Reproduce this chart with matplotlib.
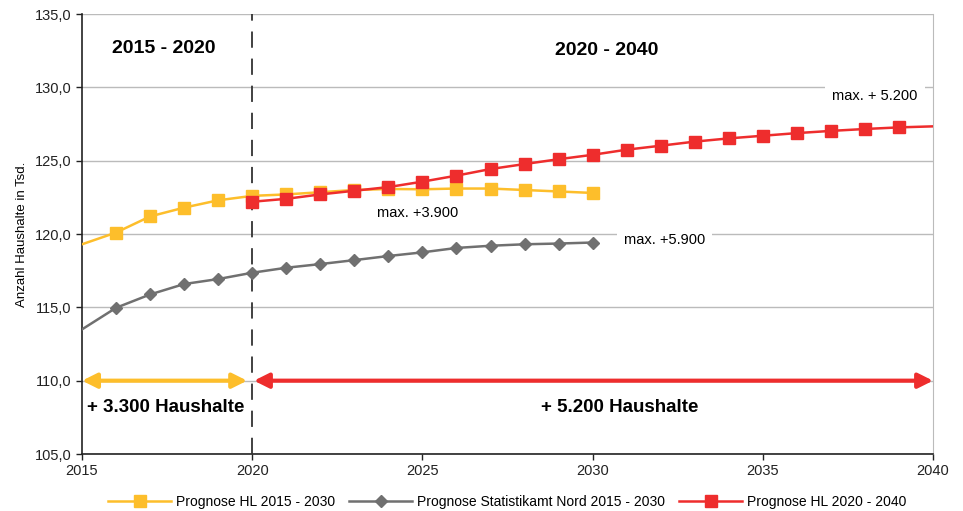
import matplotlib
matplotlib.use("Agg")
import matplotlib.pyplot as plt
import matplotlib.ticker as mticker

plt.rcParams["font.family"] = ["Liberation Sans", "DejaVu Sans"]

# Daten (Tsd. Haushalte)
years_a = list(range(2015, 2031))
hl_2015 = [119.3, 120.1, 121.2, 121.8, 122.3, 122.6, 122.7, 122.85, 123.0,
           123.07, 123.05, 123.1, 123.1, 123.0, 122.9, 122.8]
stat_nord = [113.5, 114.97, 115.88, 116.59, 116.93, 117.36, 117.7, 117.95, 118.22,
             118.5, 118.75, 119.05, 119.2, 119.3, 119.35, 119.42]
years_b = list(range(2020, 2041))
hl_2020 = [122.2, 122.4, 122.7, 122.95, 123.2, 123.57, 123.98, 124.43, 124.77, 125.1,
           125.4, 125.75, 126.02, 126.3, 126.52, 126.7, 126.88, 127.03, 127.16, 127.27, 127.34]

labels = ["Prognose HL 2015 - 2030", "Prognose Statistikamt Nord 2015 - 2030",
          "Prognose HL 2020 - 2040"]

YELLOW = "#FDBE2B"
GRAY = "#707070"
RED = "#EE2D2D"

fig = plt.figure(figsize=(9.63, 5.11), dpi=100)
ax = fig.add_axes([0.0852, 0.1115, 0.8837, 0.8611])

ax.plot(years_a, hl_2015, color=YELLOW, lw=1.8, marker="s", ms=8.5,
        markevery=list(range(1, len(years_a))), label=labels[0], zorder=4)
ax.plot(years_a, stat_nord, color=GRAY, lw=1.8, marker="D", ms=6.5,
        markevery=list(range(1, len(years_a))), label=labels[1], zorder=4)
ax.plot(years_b, hl_2020, color=RED, lw=1.8, marker="s", ms=8.5,
        markevery=list(range(0, len(years_b) - 1)), label=labels[2], zorder=5)

ax.set_xlim(2015, 2040)
ax.set_ylim(105, 135)
ax.set_xticks(range(2015, 2041, 5))
ax.set_yticks(range(105, 136, 5))
ax.yaxis.set_major_formatter(mticker.FuncFormatter(lambda v, p: f"{v:.1f}".replace(".", ",")))
ax.tick_params(labelsize=10.5, length=4, width=1, color="#222222", labelcolor="#222222")
ax.grid(axis="y", color="#BBBBBB", lw=1)
ax.set_axisbelow(True)
for s in ["left", "bottom"]:
    ax.spines[s].set_color("#222222")
    ax.spines[s].set_linewidth(1.2)
ax.spines["top"].set_visible(False)
ax.spines["right"].set_color("#BBBBBB")
ax.set_ylabel("Anzahl Haushalte in Tsd.", fontsize=9.5, labelpad=5)

# Trennlinie 2020
ax.axvline(2020, color="#333333", lw=1.3, dashes=(9, 6), zorder=3)

# Zeitraum-Titel
ax.text(2017.4, 132.65, "2015 - 2020", ha="center", va="center", fontsize=14, fontweight="bold")
ax.text(2030.4, 132.5, "2020 - 2040", ha="center", va="center", fontsize=14, fontweight="bold")

# Pfeile
ax.annotate("", xy=(2015.0, 110), xytext=(2019.85, 110),
            arrowprops=dict(arrowstyle="<|-|>", color=YELLOW, lw=3, mutation_scale=22, shrinkA=0, shrinkB=0))
ax.annotate("", xy=(2020.05, 110), xytext=(2040, 110),
            arrowprops=dict(arrowstyle="<|-|>", color=RED, lw=3, mutation_scale=22, shrinkA=0, shrinkB=0))
ax.text(2017.45, 108.2, "+ 3.300 Haushalte", ha="center", va="center", fontsize=13.5, fontweight="bold")
ax.text(2030.8, 108.2, "+ 5.200 Haushalte", ha="center", va="center", fontsize=13.5, fontweight="bold")

# Hinweise
box = dict(facecolor="white", edgecolor="none", pad=3)
ax.text(2024.85, 121.4, "max. +3.900", ha="center", va="center", fontsize=10.5, bbox=box, zorder=6)
ax.text(2032.1, 119.6, "max. +5.900", ha="center", va="center", fontsize=10.5,
        bbox=dict(facecolor="white", edgecolor="none", pad=5), zorder=6)
ax.text(2038.3, 129.4, "max. + 5.200", ha="center", va="center", fontsize=10.5,
        bbox=dict(facecolor="white", edgecolor="none", pad=5), zorder=6)

ax.legend(loc="upper center", bbox_to_anchor=(0.5, -0.065), ncol=3, frameon=False,
          fontsize=10, handlelength=4.5, columnspacing=1.0, handletextpad=0.4)

fig.savefig("out.png", dpi=100)
